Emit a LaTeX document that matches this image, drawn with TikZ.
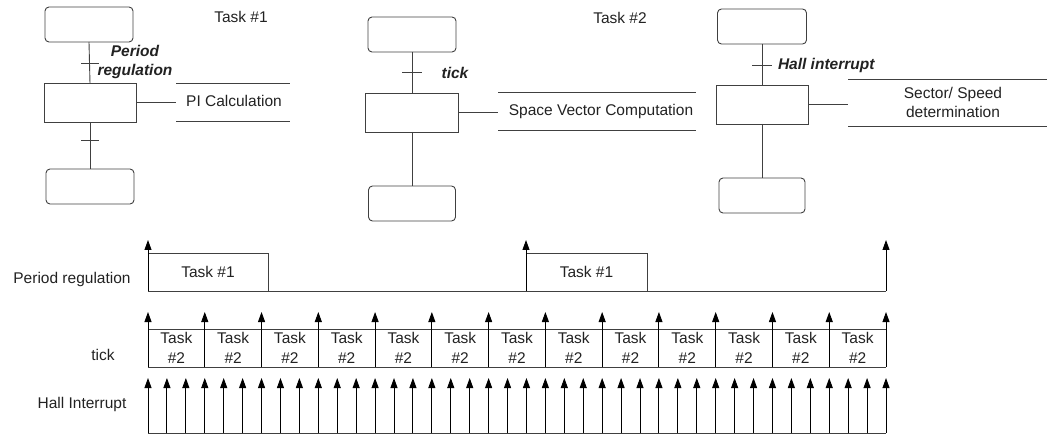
\documentclass[tikz,border=0pt]{standalone}
\usepackage{fontspec}
\setmainfont{Liberation Sans}
\usetikzlibrary{arrows.meta}
\definecolor{ln}{HTML}{404040}
\definecolor{tx}{HTML}{222222}
\begin{document}
\begin{tikzpicture}[x=1pt,y=-1pt,
  every node/.style={inner sep=0pt,outer sep=0pt,text=tx,font=\fontsize{15.5}{19}\selectfont},
  rbox/.style={draw=ln,line width=0.9pt,rounded corners=4pt,minimum width=88pt,minimum height=35pt},
  sbox/.style={draw=ln,line width=0.9pt,minimum width=92pt,minimum height=39pt},
  wire/.style={draw=ln,line width=0.9pt},
  lbl/.style={font=\fontsize{15.5}{19}\selectfont\bfseries\itshape,align=center},
  arr/.style={draw=black,line width=0.9pt,-{Triangle[width=7pt,length=10pt]}},
  tl/.style={draw=ln,line width=0.9pt}
]
\useasboundingbox (0,0) rectangle (1048,435);

% ---------- Task 1 SFC ----------
\node[rbox] (a1) at (89,24.5) {};
\node[sbox] (a2) at (90,103) {};
\node[rbox] (a3) at (90,186.5) {};
\draw[wire] (a1.south) -- (a2.north);
\draw[wire] (a2.south) -- (a3.north);
\coordinate (at1) at (90,63);
\coordinate (at2) at (90,140);
\draw[wire] ([xshift=-9pt]at1) -- ([xshift=9pt]at1);
\draw[wire] ([xshift=-9pt]at2) -- ([xshift=9pt]at2);
\node[lbl] (alab) at (135,62) {Period\\regulation};
\coordinate (ae) at (176,102);
\draw[wire] (a2.east |- ae) -- (ae);
\draw[wire] (176,83) -- (290,83);
\draw[wire] (176,121) -- (290,121);
\node (atxt) at (234,101) {PI Calculation};
\node (atitle) at (241,17) {Task \#1};

% ---------- Task 2 SFC ----------
\node[rbox] (b1) at (412,34.5) {};
\node[sbox,minimum width=93pt] (b2) at (412,112.5) {};
\node[rbox,minimum width=87pt] (b3) at (412,203.5) {};
\draw[wire] (b1.south) -- (b2.north);
\draw[wire] (b2.south) -- (b3.north);
\coordinate (bt1) at (412,72);
\draw[wire] ([xshift=-10pt]bt1) -- ([xshift=10pt]bt1);
\node[lbl] (blab) at (455,73) {tick};
\coordinate (be) at (498,112);
\draw[wire] (b2.east |- be) -- (be);
\draw[wire] (498,92) -- (696,92);
\draw[wire] (498,130) -- (696,130);
\node (btxt) at (601,111) {Space Vector Computation};
\node (btitle) at (620,18) {Task \#2};

% ---------- Task 3 SFC ----------
\node[rbox,minimum width=89pt] (c1) at (762,26.5) {};
\node[sbox] (c2) at (762,104.5) {};
\node[rbox,minimum width=86pt] (c3) at (762,195.5) {};
\draw[wire] (c1.south) -- (c2.north);
\draw[wire] (c2.south) -- (c3.north);
\coordinate (ct1) at (762,65);
\draw[wire] ([xshift=-10pt]ct1) -- ([xshift=10pt]ct1);
\node[lbl,anchor=west] (clab) at (778,65) {Hall interrupt};
\coordinate (ce) at (848,104);
\draw[wire] (c2.east |- ce) -- (ce);
\draw[wire] (848,79) -- (1047,79);
\draw[wire] (848,126) -- (1047,126);
\node[align=center] (ctxt) at (953,102.5) {Sector/ Speed\\determination};

% ---------- Timing: period regulation ----------
\node (rowp) at (72,279) {Period regulation};
\node (rowt) at (103,355) {tick};
\node (rowh) at (82,404) {Hall Interrupt};

\draw[tl] (148,291) -- (886,291);
\draw[tl] (148,253) rectangle (268,291);
\draw[tl] (526,253) rectangle (647,291);
\node (p1) at (208,272) {Task \#1};
\node (p2) at (586.5,272) {Task \#1};
\foreach \x in {148,526,886} \draw[arr] (\x,291) -- (\x,240);

% ---------- Timing: tick ----------
\draw[tl] (148,329) -- (886,329);
\draw[tl] (148,367) -- (886,367);
\foreach \k in {0,...,13} \draw[arr] ({148+56.769*\k},367) -- ({148+56.769*\k},312);
\foreach \k in {0,...,12} \node[align=center,font=\fontsize{15.5}{20}\selectfont] at ({148+56.769*(\k+0.5)},347.5) {Task\\\#2};

% ---------- Timing: hall ----------
\draw[tl] (148,433) -- (886,433);
\foreach \k in {0,...,39} \draw[arr] ({148+18.923*\k},433) -- ({148+18.923*\k},378);
\end{tikzpicture}
\end{document}
